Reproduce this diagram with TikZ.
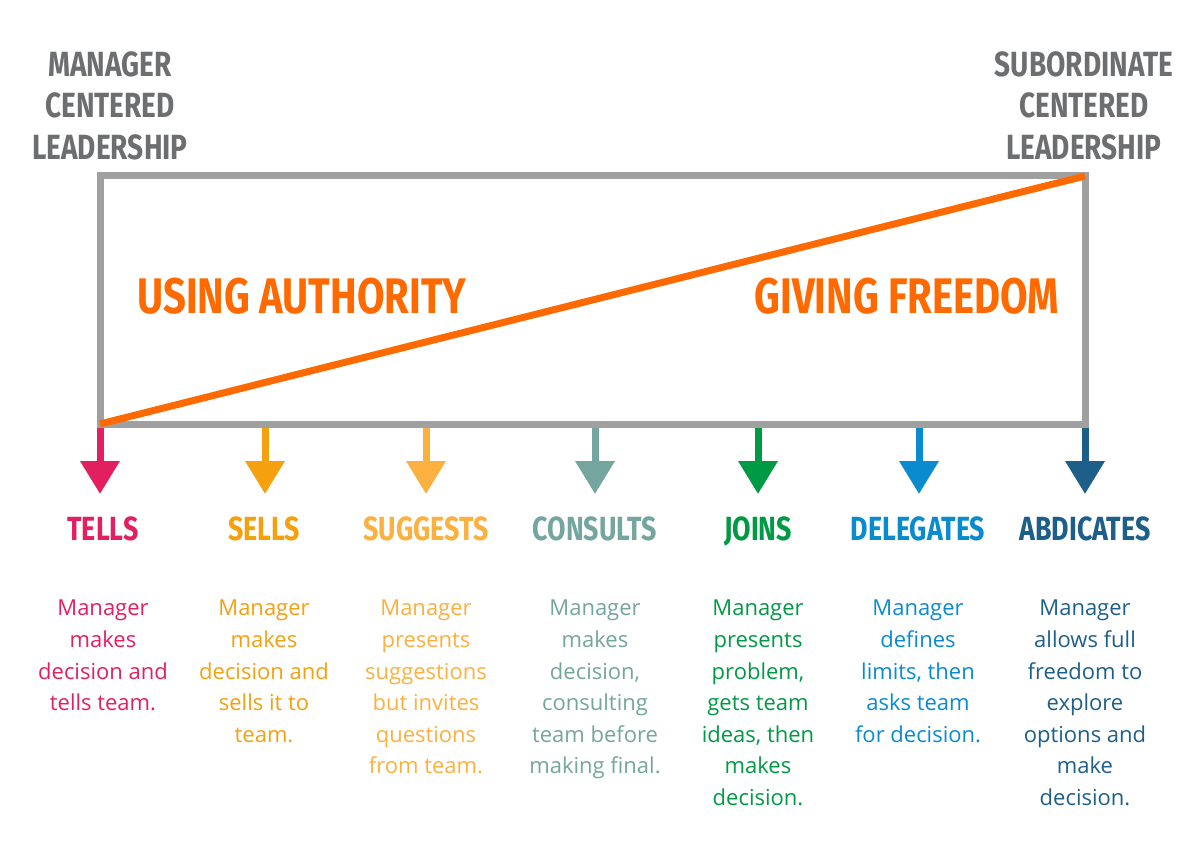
\documentclass[tikz,border=0pt]{standalone}
\usepackage{fontspec}
\usetikzlibrary{arrows.meta}
\newfontfamily\hdfont[FakeStretch=0.8]{Fira Sans}
\newfontfamily\bodyfont{Open Sans}
\definecolor{cgray}{HTML}{6D6E70}
\definecolor{cbox}{HTML}{9FA09F}
\definecolor{corange}{HTML}{FF6A00}
\definecolor{ctells}{HTML}{E2205F}
\definecolor{csells}{HTML}{F4A00F}
\definecolor{csugg}{HTML}{FBB040}
\definecolor{ccons}{HTML}{74A59F}
\definecolor{cjoins}{HTML}{009A44}
\definecolor{cdeleg}{HTML}{0A8BD0}
\definecolor{cabd}{HTML}{1E5F8A}
\tikzset{
  toptitle/.style={inner sep=0, anchor=north, align=center, text=cgray,
    font=\hdfont\bfseries\fontsize{35}{41.5}\selectfont},
  bigtitle/.style={inner sep=0, anchor=base, text=corange,
    font=\hdfont\bfseries\fontsize{50}{60}\selectfont},
  stylelab/.style={inner sep=0, anchor=base,
    font=\hdfont\bfseries\fontsize{33.5}{40}\selectfont},
  desc/.style={inner sep=0, anchor=north, align=center,
    font=\bodyfont\fontsize{22}{31.6}\selectfont},
  downarrow/.style={line width=7pt, -{Triangle[width=38pt,length=33pt]}},
}
\begin{document}
\begin{tikzpicture}[x=1pt,y=-1pt]
\useasboundingbox (0,0) rectangle (1201,861);
% arrows (drawn first so box covers their top)
\foreach \n/\x/\c in {1/100/ctells,2/265/csells,3/426/csugg,4/595/ccons,5/758/cjoins,6/919/cdeleg,7/1085/cabd}{
  \coordinate (s\n) at (\x,424);
  \coordinate (t\n) at (\x,494);
  \draw[downarrow, draw=\c, fill=\c] (s\n) -- (t\n);
}
% box
\node[draw=cbox, line width=7pt, minimum width=985pt, minimum height=248pt, inner sep=0] (box) at (592.5,300) {};
\coordinate (lo) at ([shift={(3.5pt,3.5pt)}]box.south west);
\coordinate (hi) at ([shift={(-3.5pt,-3.5pt)}]box.north east);
\draw[corange, line width=7pt] (lo) -- (hi);
% titles
\node[toptitle] (mgr) at (110,51) {MANAGER\\CENTERED\\LEADERSHIP};
\node[toptitle] (sub) at (1084,51) {SUBORDINATE\\CENTERED\\LEADERSHIP};
\node[bigtitle] (auth) at (302,313) {USING AUTHORITY};
\node[bigtitle] (free) at (907,313) {GIVING FREEDOM};
% labels
\node[stylelab, text=ctells] (l1) at (103,540) {TELLS};
\node[stylelab, text=csells] (l2) at (264,540) {SELLS};
\node[stylelab, text=csugg] (l3) at (426,540) {SUGGESTS};
\node[stylelab, text=ccons] (l4) at (595,540) {CONSULTS};
\node[stylelab, text=cjoins] (l5) at (758,540) {JOINS};
\node[stylelab, text=cdeleg] (l6) at (918,540) {DELEGATES};
\node[stylelab, text=cabd] (l7) at (1085,540) {ABDICATES};
% descriptions
\node[desc, text=ctells] (d1) at (103,600) {Manager\\makes\\decision and\\tells team.};
\node[desc, text=csells] (d2) at (264,600) {Manager\\makes\\decision and\\sells it to\\team.};
\node[desc, text=csugg] (d3) at (426,600) {Manager\\presents\\suggestions\\but invites\\questions\\from team.};
\node[desc, text=ccons] (d4) at (595,600) {Manager\\makes\\decision,\\consulting\\team before\\making final.};
\node[desc, text=cjoins] (d5) at (758,600) {Manager\\presents\\problem,\\gets team\\ideas, then\\makes\\decision.};
\node[desc, text=cdeleg] (d6) at (918,600) {Manager\\defines\\limits, then\\asks team\\for decision.};
\node[desc, text=cabd] (d7) at (1085,600) {Manager\\allows full\\freedom to\\explore\\options and\\make\\decision.};
\end{tikzpicture}
\end{document}
